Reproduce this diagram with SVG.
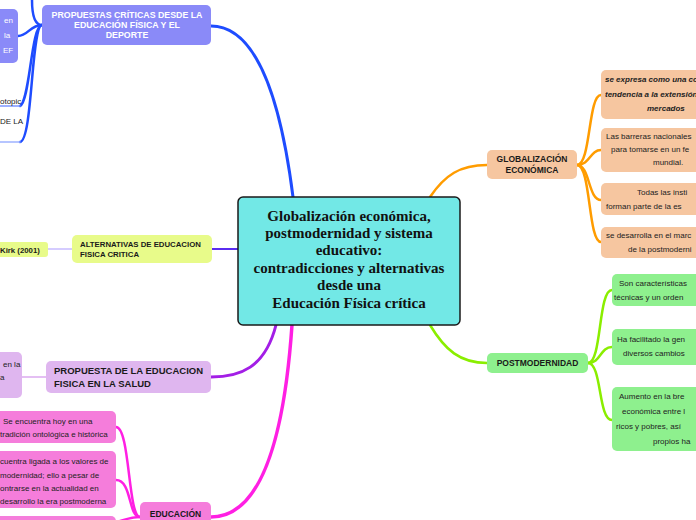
<svg xmlns="http://www.w3.org/2000/svg" width="696" height="520" viewBox="0 0 696 520">
<style>
.c{fill:none;stroke-linecap:round}
.t{font-family:"Liberation Sans",Arial,sans-serif;font-weight:bold;fill:#1a1a1a}
.w{font-family:"Liberation Sans",Arial,sans-serif;font-weight:bold;fill:#ffffff}
.h{font-family:"Liberation Sans",Arial,sans-serif;fill:#222;font-size:8px}
.title{font-family:"Liberation Serif","Times New Roman",serif;font-weight:bold;fill:#111;font-size:15px;text-anchor:middle}
</style>
<rect width="696" height="520" fill="#ffffff"/>
<g id="connectors">
<path class="c" d="M293,197 C 282,110 260,26 211,26" stroke="#1e4cff" stroke-width="3"/>
<path class="c" d="M42,25 C 34,25 32,12 32,0" stroke="#1e4cff" stroke-width="2.5"/>
<path class="c" d="M42,25 C 30,25 28,36 18,36" stroke="#1e4cff" stroke-width="2.5"/>
<path class="c" d="M42,25 C 31,25 30,102 20,106" stroke="#1e4cff" stroke-width="2.5"/>
<path class="c" d="M42,25 C 31,25 33,140 20,142" stroke="#1e4cff" stroke-width="2.5"/>
<path class="c" d="M0,106 L20,106" stroke="#7d96ff" stroke-width="1.5"/>
<path class="c" d="M0,142 L20,142" stroke="#9fb2ff" stroke-width="1.5"/>
<path class="c" d="M238,249 L212,249" stroke="#5a2cf0" stroke-width="2"/>
<path class="c" d="M72,249 L48,249" stroke="#c8bcff" stroke-width="1.5"/>
<path class="c" d="M276,325 C 265,368 240,377 211,377" stroke="#a31ee6" stroke-width="3"/>
<path class="c" d="M46,377 L22,377" stroke="#dcaaf0" stroke-width="1.5"/>
<path class="c" d="M292,325 C 282,470 250,517 211,517" stroke="#ff1fe3" stroke-width="3.5"/>
<path class="c" d="M140,517 C 128,517 130,427 116,427" stroke="#ff1fe3" stroke-width="2.5"/>
<path class="c" d="M140,517 C 128,517 132,480 116,480" stroke="#ff1fe3" stroke-width="2.5"/>
<path class="c" d="M140,517 C 128,517 126,520 116,522" stroke="#ff1fe3" stroke-width="2.5"/>
<path class="c" d="M430,197 C 445,175 460,165 487,165" stroke="#ff9c00" stroke-width="2.5"/>
<path class="c" d="M577,165 C 591,165 588,95 601,95" stroke="#ff9c00" stroke-width="2.5"/>
<path class="c" d="M577,165 C 590,165 590,150 601,150" stroke="#ff9c00" stroke-width="2.5"/>
<path class="c" d="M577,165 C 590,165 588,200 601,200" stroke="#ff9c00" stroke-width="2.5"/>
<path class="c" d="M577,165 C 591,165 588,242 601,242" stroke="#ff9c00" stroke-width="2.5"/>
<path class="c" d="M430,325 C 445,350 460,363 487,363" stroke="#8aee00" stroke-width="2.5"/>
<path class="c" d="M588,363 C 602,363 598,290 612,290" stroke="#8aee00" stroke-width="2.5"/>
<path class="c" d="M588,363 C 601,363 600,347 612,347" stroke="#8aee00" stroke-width="2.5"/>
<path class="c" d="M588,363 C 602,363 598,420 612,420" stroke="#8aee00" stroke-width="2.5"/>
</g>
<g id="central">
<rect x="238" y="197" width="222" height="128" rx="5" fill="#72e8e6" stroke="#1a1a1a" stroke-width="1.5"/>
<text class="title" x="349" y="221">Globalización económica,</text>
<text class="title" x="349" y="238">postmodernidad y sistema</text>
<text class="title" x="349" y="255">educativo:</text>
<text class="title" x="349" y="273">contradicciones y alternativas</text>
<text class="title" x="349" y="290">desde una</text>
<text class="title" x="349" y="308">Educación Física crítica</text>
</g>
<g id="propuestas-criticas">
<rect x="42" y="5" width="169" height="40" rx="5" fill="#8a8af8"/>
<text class="w" font-size="8.8" text-anchor="middle"><tspan x="127" y="18">PROPUESTAS CRÍTICAS DESDE LA</tspan><tspan x="127" y="28">EDUCACIÓN FÍSICA Y EL</tspan><tspan x="127" y="38">DEPORTE</tspan></text>
</g>
<g id="pc-leaf-1">
<rect x="-10" y="9" width="28" height="54" rx="5" fill="#8a8af8"/>
<text class="h" font-size="10" style="fill:#fff"><tspan x="4" y="23">en</tspan><tspan x="4" y="38">la</tspan><tspan x="3" y="53">EF</tspan></text>
</g>
<g id="pc-leaf-2">
<text class="h" font-size="6" x="0" y="104">otopic</text>
</g>
<g id="pc-leaf-3">
<text class="h" font-size="6" x="0" y="124">DE LA</text>
</g>
<g id="alternativas">
<rect x="72" y="235" width="140" height="28" rx="5" fill="#e8fb8a"/>
<text class="t" font-size="7.8"><tspan x="80" y="247">ALTERNATIVAS DE EDUCACION</tspan><tspan x="80" y="257">FISICA CRITICA</tspan></text>
</g>
<g id="kirk">
<rect x="-10" y="242" width="58" height="15" rx="3" fill="#e8fb8a"/>
<text class="t" font-size="7.8" x="0" y="253">Kirk (2001)</text>
</g>
<g id="salud">
<rect x="46" y="361" width="165" height="32" rx="5" fill="#dfb6ef"/>
<text class="t" font-size="9.5"><tspan x="54" y="374">PROPUESTA DE LA EDUCACION</tspan><tspan x="54" y="387">FISICA EN LA SALUD</tspan></text>
</g>
<g id="salud-leaf">
<rect x="-10" y="352" width="32" height="46" rx="5" fill="#dfb6ef"/>
<text class="h" font-size="8"><tspan x="3" y="367">en la</tspan><tspan x="0" y="380">a</tspan></text>
</g>
<g id="educacion">
<rect x="140" y="502" width="71" height="28" rx="5" fill="#f57ddb"/>
<text class="t" font-size="8.5" x="175.5" y="517" text-anchor="middle">EDUCACIÓN</text>
</g>
<g id="edu-leaf-1">
<rect x="-10" y="411" width="126" height="32" rx="5" fill="#f57ddb"/>
<text class="h" font-size="7.5"><tspan x="3" y="424">Se encuentra hoy en una</tspan><tspan x="0" y="437">tradición ontológica e histórica</tspan></text>
</g>
<g id="edu-leaf-2">
<rect x="-10" y="451" width="126" height="57" rx="5" fill="#f57ddb"/>
<text class="h" font-size="7.5"><tspan x="0" y="464">cuentra ligada a los valores de</tspan><tspan x="0" y="478">modernidad; ello a pesar de</tspan><tspan x="0" y="491">ontrarse en la actualidad en</tspan><tspan x="0" y="504">desarrollo la era postmoderna</tspan></text>
</g>
<g id="edu-leaf-3">
<rect x="-10" y="516" width="126" height="20" rx="5" fill="#f57ddb"/>
</g>
<g id="globalizacion">
<rect x="487" y="150" width="90" height="29" rx="5" fill="#f6c6a0"/>
<text class="t" font-size="8.5" text-anchor="middle"><tspan x="532" y="162">GLOBALIZACIÓN</tspan><tspan x="532" y="173">ECONÓMICA</tspan></text>
</g>
<g id="glob-leaf-1">
<rect x="601" y="70" width="105" height="49" rx="5" fill="#f6c6a0"/>
<text class="h" font-size="6.8" font-style="italic" font-weight="bold"><tspan x="605" y="82">se expresa como una co</tspan><tspan x="605" y="97">tendencia a la extensión</tspan><tspan x="647" y="111">mercados</tspan></text>
</g>
<g id="glob-leaf-2">
<rect x="601" y="128" width="105" height="44" rx="5" fill="#f6c6a0"/>
<text class="h" font-size="7.5"><tspan x="606" y="139">Las barreras nacionales</tspan><tspan x="611" y="152">para tomarse en un fe</tspan><tspan x="653" y="165">mundial.</tspan></text>
</g>
<g id="glob-leaf-3">
<rect x="601" y="183" width="105" height="32" rx="5" fill="#f6c6a0"/>
<text class="h" font-size="7.5"><tspan x="637" y="195">Todas las insti</tspan><tspan x="606" y="209">forman parte de la es</tspan></text>
</g>
<g id="glob-leaf-4">
<rect x="601" y="227" width="105" height="31" rx="5" fill="#f6c6a0"/>
<text class="h" font-size="7.5"><tspan x="606" y="238">se desarrolla en el marc</tspan><tspan x="628" y="252">de la postmoderni</tspan></text>
</g>
<g id="postmodernidad">
<rect x="487" y="353" width="101" height="20" rx="5" fill="#8ef08e"/>
<text class="t" font-size="8.5" x="537.5" y="366" text-anchor="middle">POSTMODERNIDAD</text>
</g>
<g id="post-leaf-1">
<rect x="612" y="274" width="94" height="32" rx="5" fill="#8ef08e"/>
<text class="h" font-size="7.5"><tspan x="619" y="286">Son características</tspan><tspan x="614" y="300">técnicas y un orden</tspan></text>
</g>
<g id="post-leaf-2">
<rect x="612" y="329" width="94" height="36" rx="5" fill="#8ef08e"/>
<text class="h" font-size="7.5"><tspan x="617" y="342">Ha facilitado la gen</tspan><tspan x="623" y="356">diversos cambios</tspan></text>
</g>
<g id="post-leaf-3">
<rect x="612" y="387" width="94" height="64" rx="5" fill="#8ef08e"/>
<text class="h" font-size="7.5"><tspan x="619" y="399">Aumento en la bre</tspan><tspan x="622" y="414">económica entre l</tspan><tspan x="616" y="429">ricos y pobres, así</tspan><tspan x="653" y="444">propios ha</tspan></text>
</g>
</svg>
